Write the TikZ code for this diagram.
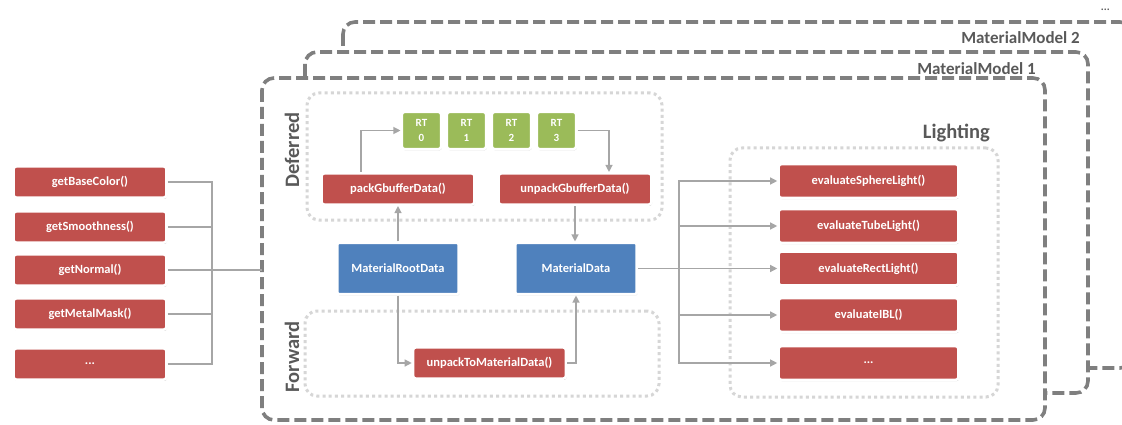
\documentclass[tikz,border=0pt]{standalone}
\usepackage{fontspec}
\setmainfont{Carlito}
\usetikzlibrary{arrows.meta,shadows}

\definecolor{fnred}{HTML}{C0504D}
\definecolor{rtgreen}{HTML}{9BBB59}
\definecolor{datablue}{HTML}{4F81BD}
\definecolor{wiregray}{HTML}{A6A6A6}
\definecolor{framegray}{HTML}{7F7F7F}
\definecolor{dotgray}{HTML}{D6D6D6}
\definecolor{labelgray}{HTML}{595959}

\tikzset{
  card/.style={draw=white, line width=2.6pt, rounded corners=3pt, text=white,
    inner sep=0pt, font=\bfseries\fontsize{12.5}{14}\selectfont,
    drop shadow={shadow xshift=0.7pt, shadow yshift=-1.2pt, opacity=0.28, fill=black}},
  fnbox/.style={card, fill=fnred, minimum width=153pt, minimum height=31.5pt},
  litebox/.style={card, fill=fnred, minimum width=180pt, minimum height=34pt},
  rtbox/.style={card, fill=rtgreen, minimum width=39.5pt, minimum height=37.5pt,
    align=center, font=\bfseries\fontsize{11}{15}\selectfont},
  databox/.style={card, fill=datablue, minimum width=121.5pt, minimum height=51.5pt,
    rounded corners=1.5pt},
  groupbox/.style={draw=dotgray, line width=3pt, dash pattern=on 3pt off 3.2pt,
    rounded corners=12pt, inner sep=0pt},
  modelframe/.style={draw=framegray, fill=white, line width=3.6pt,
    dash pattern=on 12pt off 5pt, rounded corners=12pt},
  framelabel/.style={text=labelgray, font=\bfseries\fontsize{17}{20}\selectfont, inner sep=0pt},
  sidelabel/.style={text=labelgray, font=\bfseries\fontsize{20.5}{24}\selectfont,
    inner sep=0pt, rotate=90},
  wire/.style={draw=wiregray, line width=1.2pt},
  flow/.style={wire, -{Triangle[length=7pt,width=7pt]}},
}

\begin{document}
\begin{tikzpicture}[x=1pt, y=-1pt]
\useasboundingbox (0,0) rectangle (1122,425);

% stacked material model frames, back to front
\draw[modelframe] (343,22) rectangle (1132,368);
\draw[modelframe] (305,52) rectangle (1088,393);
\draw[modelframe] (262,78) rectangle (1045,420);

\node[text=labelgray, font=\bfseries\fontsize{11}{12}\selectfont, inner sep=0pt, anchor=base east] (mm3) at (1110,11) {...};
\node[framelabel, anchor=base east] (mm2) at (1080,44) {MaterialModel 2};
\node[framelabel, anchor=base east] (mm1) at (1036,75) {MaterialModel 1};

% surface inputs
\node[fnbox] (bc) at (90,182) {getBaseColor()};
\node[fnbox] (sm) at (90,227) {getSmoothness()};
\node[fnbox] (nm) at (90,270) {getNormal()};
\node[fnbox] (mk) at (90,314) {getMetalMask()};
\node[fnbox] (lx) at (90,364) {...};

\coordinate (lbus) at (212,270);
\coordinate (f1in) at (262,270);
\foreach \n in {bc,sm,nm,mk,lx} \draw[wire] (\n.east) -| (lbus);
\draw[wire] (lbus) -- (f1in);

% deferred path
\node[groupbox, minimum width=355pt, minimum height=127pt] (defgrp) at (484.5,156.5) {};
\node[sidelabel] (deflbl) at (292,150) {Deferred};

\node[rtbox] (rt0) at (421.5,130.5) {RT\\0};
\node[rtbox] (rt1) at (466.5,130.5) {RT\\1};
\node[rtbox] (rt2) at (511.5,130.5) {RT\\2};
\node[rtbox] (rt3) at (556.5,130.5) {RT\\3};

\node[fnbox] (pack) at (398,189) {packGbufferData()};
\node[fnbox] (unpack) at (575,189) {unpackGbufferData()};

% material data
\node[databox] (mrd) at (398,268.5) {MaterialRootData};
\node[databox] (md) at (576,268.5) {MaterialData};

% forward path
\node[groupbox, minimum width=354pt, minimum height=85pt] (fwdgrp) at (482,353.5) {};
\node[sidelabel] (fwdlbl) at (292,357) {Forward};
\node[fnbox] (utm) at (489.5,363) {unpackToMaterialData()};

% lighting
\node[groupbox, minimum width=268pt, minimum height=249pt] (litgrp) at (864,272.5) {};
\node[text=labelgray, font=\bfseries\fontsize{20.5}{24}\selectfont, inner sep=0pt, anchor=base east] (litlbl) at (990,139) {Lighting};

\node[litebox] (sph) at (868.5,181) {evaluateSphereLight()};
\node[litebox] (tube) at (868.5,226) {evaluateTubeLight()};
\node[litebox] (rect) at (868.5,268.5) {evaluateRectLight()};
\node[litebox] (ibl) at (868.5,315) {evaluateIBL()};
\node[litebox] (lmore) at (868.5,363) {...};

% data flow
\draw[flow] ([xshift=-37pt]pack.north) |- (rt0.west);
\draw[flow] (rt3.east) -| ([xshift=34pt]unpack.north);
\draw[flow] (mrd.north) -- (mrd.north |- pack.south);
\draw[flow] (unpack.south) -- (unpack.south |- md.north);
\draw[flow] (mrd.south) |- (utm.west);
\draw[flow] (utm.east) -| (md.south);

\coordinate (rbus) at (679,268.5);
\draw[wire] (md.east) -- (rbus);
\foreach \n in {sph,tube,rect,ibl,lmore} \draw[flow] (rbus) |- (\n.west);
\end{tikzpicture}
\end{document}
